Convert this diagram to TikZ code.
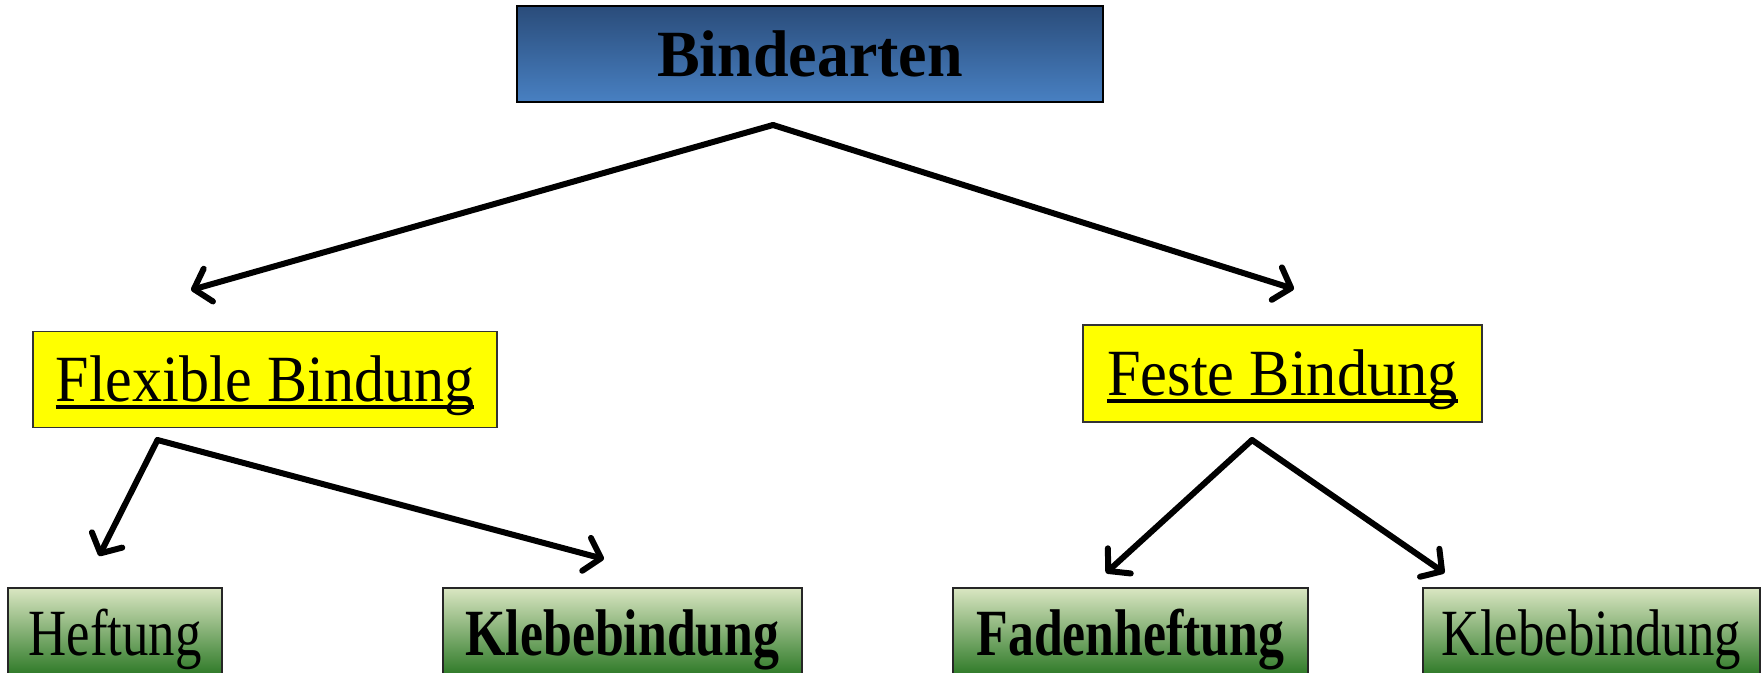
\documentclass[tikz,border=0pt]{standalone}
\usepackage{fontspec}
\setmainfont{Liberation Serif}
\usepackage{graphicx}
\usetikzlibrary{arrows.meta}
\definecolor{bluetop}{RGB}{42,76,122}
\definecolor{bluebot}{RGB}{72,128,194}
\definecolor{greentop}{RGB}{218,230,194}
\definecolor{greenbot}{RGB}{40,118,34}
\definecolor{pureyellow}{RGB}{255,255,0}
\newcommand\thickul[1]{\setbox0\hbox{#1}\leavevmode\rlap{\raisebox{-7pt}{\rule{\wd0}{3.5pt}}}\box0}
\tikzset{
  box/.style={rectangle, inner sep=0pt, text height=44pt, text depth=0pt, font=\fontsize{66}{70}\selectfont},
  topbox/.style={box, draw=black, line width=1.5pt, top color=bluetop, bottom color=bluebot},
  midbox/.style={box, draw=black!80, line width=1.2pt, fill=pureyellow},
  leafbox/.style={box, draw=black!85, line width=1.5pt, top color=greentop, bottom color=greenbot},
  conn/.style={line width=6pt, line cap=round, line join=round, -{Straight Barb[length=15pt,width=34pt,round]}}
}
\begin{document}
\begin{tikzpicture}[x=1pt,y=-1pt]
\useasboundingbox (0,0) rectangle (1764,672);
\clip (0,0) rectangle (1764,672);
\node[topbox, minimum width=586pt, minimum height=96pt] (bind) at (810,54) {\scalebox{0.97}[1]{\bfseries Bindearten}};
\node[midbox, minimum width=464pt, minimum height=96pt] (flex) at (265,379.5) {\scalebox{0.91}[1]{\thickul{Flexible Bindung}}};
\node[midbox, minimum width=399pt, minimum height=97pt] (fest) at (1282.5,373.5) {\scalebox{0.915}[1]{\thickul{Feste Bindung}}};
\node[leafbox, minimum width=214pt, minimum height=90pt] (heft) at (115,633) {\scalebox{0.8}[1]{Heftung}};
\node[leafbox, minimum width=359pt, minimum height=90pt] (kleb1) at (622.5,633) {\scalebox{0.785}[1]{\bfseries Klebebindung}};
\node[leafbox, minimum width=355pt, minimum height=90pt] (faden) at (1130.5,633) {\scalebox{0.785}[1]{\bfseries Fadenheftung}};
\node[leafbox, minimum width=337pt, minimum height=90pt] (kleb2) at (1591.5,633) {\scalebox{0.8}[1]{Klebebindung}};
\coordinate (a0) at (773,125);
\coordinate (a1) at (157.5,440);
\coordinate (a2) at (1252,440);
\coordinate (t1) at (191,290);
\coordinate (t2) at (1294,289);
\coordinate (t3) at (99,556);
\coordinate (t4) at (604,559);
\coordinate (t5) at (1106,573);
\coordinate (t6) at (1444.5,573);
\draw[conn] (a0) -- (t1);
\draw[conn] (a0) -- (t2);
\draw[conn] (a1) -- (t3);
\draw[conn] (a1) -- (t4);
\draw[conn] (a2) -- (t5);
\draw[conn] (a2) -- (t6);
\end{tikzpicture}
\end{document}
